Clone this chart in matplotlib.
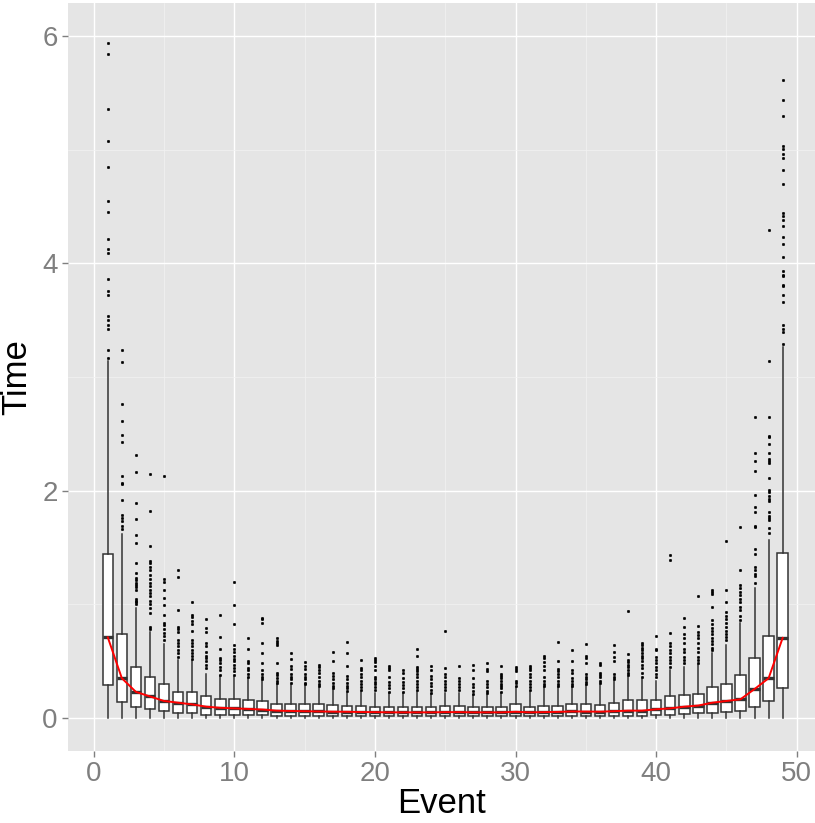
import matplotlib
matplotlib.use("Agg")
import matplotlib.pyplot as plt
from matplotlib.ticker import MultipleLocator

events = list(range(1, 50))

q1 = [0.29, 0.14, 0.094, 0.08, 0.06, 0.047, 0.047, 0.03, 0.03, 0.03,
      0.026, 0.024, 0.022, 0.02, 0.02, 0.02, 0.02, 0.018, 0.018, 0.018,
      0.017, 0.017, 0.017, 0.017, 0.018, 0.018, 0.017, 0.017, 0.017, 0.02,
      0.017, 0.018, 0.018, 0.02, 0.02, 0.019, 0.02, 0.022, 0.022, 0.026,
      0.03, 0.035, 0.04, 0.047, 0.053, 0.062, 0.10, 0.15, 0.26]
med = [0.71, 0.35, 0.23, 0.19, 0.15, 0.135, 0.12, 0.10, 0.09, 0.085,
       0.08, 0.075, 0.065, 0.062, 0.06, 0.058, 0.056, 0.055, 0.053, 0.052,
       0.05, 0.05, 0.05, 0.05, 0.052, 0.052, 0.05, 0.05, 0.05, 0.055,
       0.05, 0.052, 0.054, 0.058, 0.057, 0.056, 0.06, 0.065, 0.065, 0.077,
       0.085, 0.10, 0.11, 0.135, 0.15, 0.165, 0.255, 0.35, 0.705]
q3 = [1.445, 0.74, 0.45, 0.36, 0.30, 0.23, 0.23, 0.19, 0.17, 0.17,
      0.16, 0.15, 0.126, 0.123, 0.126, 0.12, 0.114, 0.106, 0.103, 0.10,
      0.098, 0.097, 0.10, 0.10, 0.105, 0.11, 0.10, 0.10, 0.10, 0.123,
      0.097, 0.106, 0.11, 0.126, 0.123, 0.114, 0.135, 0.156, 0.156, 0.159,
      0.19, 0.205, 0.214, 0.27, 0.297, 0.376, 0.53, 0.72, 1.45]
whisker_low = [0.0] * 49
whisker_high = [3.14, 1.62, 0.97, 0.76, 0.65, 0.51, 0.50, 0.39, 0.37, 0.36,
                0.35, 0.33, 0.30, 0.29, 0.28, 0.26, 0.25, 0.22, 0.23, 0.22,
                0.22, 0.22, 0.23, 0.21, 0.22, 0.22, 0.20, 0.20, 0.22, 0.27,
                0.23, 0.27, 0.27, 0.27, 0.29, 0.29, 0.33, 0.36, 0.34, 0.33,
                0.42, 0.45, 0.47, 0.57, 0.64, 0.84, 1.14, 1.57, 3.26]

outliers = [
    [5.94, 5.84, 5.36, 5.08, 4.85, 4.55, 4.45, 4.21, 4.13, 4.09, 3.86, 3.76, 3.72, 3.54, 3.50, 3.46, 3.42, 3.24, 3.17],
    [3.24, 3.13, 2.76, 2.61, 2.49, 2.43, 2.13, 2.07, 2.06, 1.92, 1.79, 1.76, 1.73, 1.69, 1.66],
    [2.31, 2.16, 1.89, 1.75, 1.61, 1.54, 1.36, 1.28, 1.23, 1.21, 1.19, 1.17, 1.15, 1.13, 1.05, 1.03, 1.02, 1.0],
    [2.15, 1.82, 1.51, 1.38, 1.36, 1.33, 1.30, 1.26, 1.22, 1.19, 1.16, 1.13, 1.10, 1.07, 1.03, 1.0, 0.97, 0.92, 0.80, 0.78],
    [2.13, 1.22, 1.20, 1.13, 1.06, 0.995, 0.91, 0.84, 0.82, 0.78, 0.75, 0.72, 0.69],
    [1.30, 1.245, 0.95, 0.80, 0.78, 0.76, 0.69, 0.66, 0.63, 0.60, 0.57, 0.54],
    [1.02, 0.905, 0.887, 0.85, 0.83, 0.77, 0.69, 0.66, 0.63, 0.60, 0.57, 0.55, 0.52],
    [0.87, 0.79, 0.76, 0.66, 0.63, 0.58, 0.55, 0.53, 0.50, 0.47, 0.44],
    [0.91, 0.71, 0.61, 0.53, 0.51, 0.48, 0.45, 0.42, 0.38],
    [1.20, 0.99, 0.83, 0.64, 0.61, 0.58, 0.55, 0.52, 0.50, 0.47, 0.44, 0.41, 0.38],
    [0.70, 0.61, 0.50, 0.48, 0.44, 0.42, 0.39, 0.36],
    [0.88, 0.87, 0.84, 0.66, 0.575, 0.48, 0.42, 0.39, 0.36, 0.34],
    [0.70, 0.68, 0.66, 0.64, 0.48, 0.40, 0.38, 0.35, 0.33, 0.31],
    [0.57, 0.52, 0.46, 0.43, 0.39, 0.36, 0.34, 0.31],
    [0.49, 0.46, 0.43, 0.39, 0.36, 0.34, 0.31, 0.30],
    [0.47, 0.45, 0.42, 0.40, 0.36, 0.33, 0.30, 0.28],
    [0.58, 0.50, 0.40, 0.37, 0.34, 0.31, 0.28, 0.26],
    [0.67, 0.575, 0.46, 0.37, 0.34, 0.31, 0.28, 0.26, 0.24],
    [0.51, 0.44, 0.42, 0.39, 0.36, 0.33, 0.30, 0.27, 0.25],
    [0.53, 0.51, 0.49, 0.46, 0.42, 0.36, 0.34, 0.32, 0.30, 0.27, 0.25],
    [0.46, 0.44, 0.42, 0.36, 0.32, 0.29, 0.26, 0.23],
    [0.42, 0.40, 0.35, 0.32, 0.29, 0.26, 0.23],
    [0.61, 0.55, 0.45, 0.43, 0.41, 0.39, 0.36, 0.33, 0.30, 0.27, 0.25],
    [0.46, 0.42, 0.37, 0.34, 0.31, 0.28, 0.25, 0.22],
    [0.77, 0.44, 0.39, 0.36, 0.33, 0.30, 0.27, 0.25],
    [0.46, 0.35, 0.33, 0.30, 0.27, 0.25],
    [0.47, 0.42, 0.35, 0.30, 0.27, 0.24, 0.21],
    [0.48, 0.43, 0.41, 0.33, 0.30, 0.27, 0.24, 0.22],
    [0.46, 0.39, 0.37, 0.35, 0.33, 0.30, 0.28, 0.26, 0.23],
    [0.45, 0.43, 0.41, 0.33, 0.31, 0.28],
    [0.46, 0.44, 0.42, 0.39, 0.36, 0.33, 0.30, 0.27, 0.25],
    [0.55, 0.53, 0.49, 0.46, 0.42, 0.36, 0.33, 0.30, 0.28],
    [0.67, 0.50, 0.43, 0.41, 0.39, 0.36, 0.33, 0.30, 0.28],
    [0.60, 0.50, 0.42, 0.40, 0.35, 0.33, 0.30, 0.28],
    [0.65, 0.55, 0.53, 0.48, 0.39, 0.36, 0.34, 0.32, 0.30],
    [0.48, 0.47, 0.40, 0.38, 0.36, 0.33, 0.31],
    [0.64, 0.58, 0.54, 0.50, 0.39, 0.36, 0.34],
    [0.94, 0.56, 0.51, 0.49, 0.47, 0.45, 0.42, 0.40, 0.38],
    [0.66, 0.64, 0.62, 0.60, 0.57, 0.55, 0.53, 0.50, 0.47, 0.44, 0.40, 0.36],
    [0.72, 0.61, 0.60, 0.54, 0.51, 0.48, 0.45, 0.42, 0.39, 0.36],
    [1.43, 1.39, 0.75, 0.66, 0.63, 0.60, 0.57, 0.54, 0.51, 0.48, 0.45],
    [0.88, 0.80, 0.74, 0.70, 0.66, 0.61, 0.58, 0.54, 0.51, 0.48],
    [1.07, 0.81, 0.755, 0.73, 0.70, 0.66, 0.62, 0.58, 0.54, 0.51, 0.48],
    [1.13, 1.11, 1.09, 0.98, 0.86, 0.83, 0.79, 0.77, 0.74, 0.70, 0.68, 0.65, 0.62, 0.60],
    [1.56, 1.125, 1.02, 0.93, 0.90, 0.87, 0.84, 0.80, 0.77, 0.74, 0.71, 0.69],
    [1.68, 1.30, 1.17, 1.14, 1.11, 1.08, 1.05, 1.02, 0.98, 0.95, 0.90, 0.86],
    [2.65, 2.33, 2.26, 2.17, 1.96, 1.86, 1.81, 1.685, 1.68, 1.49, 1.44, 1.33, 1.30, 1.27, 1.25, 1.19],
    [4.29, 3.14, 2.65, 2.48, 2.47, 2.41, 2.33, 2.28, 2.26, 2.24, 2.11, 2.01, 1.99, 1.95, 1.93, 1.91, 1.81, 1.78, 1.76, 1.74, 1.67, 1.63],
    [5.61, 5.44, 5.30, 5.03, 5.01, 4.96, 4.93, 4.82, 4.70, 4.44, 4.42, 4.38, 4.33, 4.23, 4.17, 4.06, 3.93, 3.90, 3.89, 3.81, 3.80, 3.72, 3.66, 3.46, 3.42, 3.40, 3.29],
]

x_ticks = [0, 10, 20, 30, 40, 50]
y_ticks = [0, 2, 4, 6]
x_label = "Event"
y_label = "Time"

plt.rcParams['font.family'] = ['Liberation Sans Narrow', 'Liberation Sans', 'DejaVu Sans']

fig = plt.figure(figsize=(8.15, 8.23), dpi=100)
ax = fig.add_axes([68 / 815, 72 / 823, 747 / 815, 748 / 823])
ax.set_facecolor('#E5E5E5')
for s in ax.spines.values():
    s.set_visible(False)

stats = []
for i in range(len(events)):
    stats.append(dict(med=med[i], q1=q1[i], q3=q3[i],
                      whislo=whisker_low[i], whishi=whisker_high[i],
                      fliers=outliers[i]))

edge = '#333333'
ax.bxp(stats, positions=events, widths=0.75, patch_artist=True,
       showcaps=False, manage_ticks=False,
       boxprops=dict(facecolor='white', edgecolor=edge, linewidth=1.1),
       medianprops=dict(color=edge, linewidth=2.4, solid_capstyle='butt'),
       whiskerprops=dict(color=edge, linewidth=1.1),
       flierprops=dict(marker='o', markersize=1.9, markerfacecolor='black',
                       markeredgecolor='black', markeredgewidth=0.3,
                       linestyle='none'))

ax.plot(events, med, color='red', linewidth=1.4, zorder=5)

ax.set_xlim(-1.83, 51.3)
ax.set_ylim(-0.29, 6.29)
ax.set_xticks(x_ticks)
ax.set_yticks(y_ticks)
ax.xaxis.set_minor_locator(MultipleLocator(5))
ax.yaxis.set_minor_locator(MultipleLocator(1))
ax.set_axisbelow(True)
ax.grid(which='major', color='white', linewidth=1.0)
ax.grid(which='minor', color='#F2F2F2', linewidth=0.5)
ax.tick_params(which='major', length=4.5, width=1.0, color='#7F7F7F',
               labelcolor='#7F7F7F', labelsize=20, pad=3)
ax.tick_params(which='minor', length=0)

ax.set_xlabel(x_label, fontsize=25, color='black', labelpad=0)
ax.set_ylabel(y_label, fontsize=25, color='black', labelpad=6)

fig.savefig('out.png', dpi=100)
